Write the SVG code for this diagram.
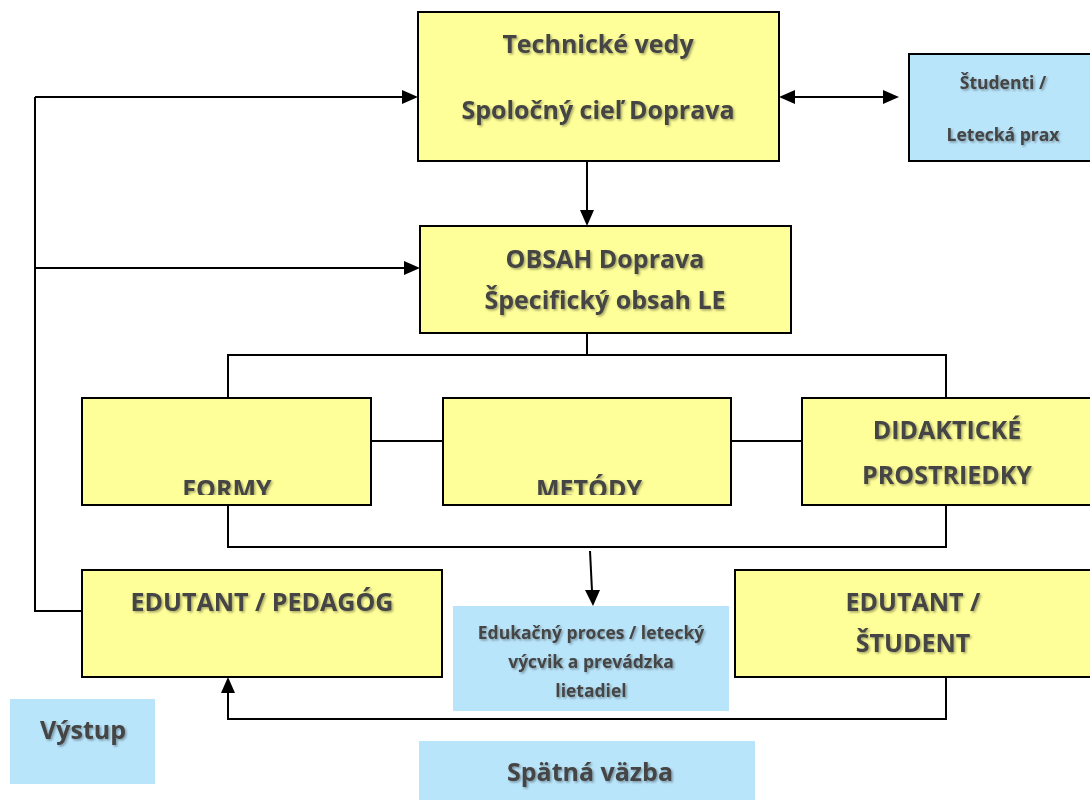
<svg xmlns="http://www.w3.org/2000/svg" width="1090" height="800" viewBox="0 0 1090 800">
<style>
.y{fill:#ffff99;stroke:#000;stroke-width:2}
.b{fill:#b9e5fb;stroke:none}
.bb{fill:#b9e5fb;stroke:#000;stroke-width:2}
.t{font-family:"Open Sans",Lato,sans-serif;font-weight:bold;fill:#444;text-anchor:middle;filter:url(#sh)}
.L{font-size:25px}
.S{font-size:17.5px}
.c{fill:none;stroke:#000;stroke-width:2}
.a{fill:#000}
</style>
<defs>
<filter id="sh" x="-10%" y="-30%" width="120%" height="160%">
<feDropShadow dx="1.5" dy="1.5" stdDeviation="1.2" flood-color="#000" flood-opacity="0.35"/>
</filter>
<clipPath id="cf"><rect x="82" y="398" width="289" height="97"/></clipPath>
<clipPath id="cm"><rect x="443" y="398" width="288" height="97"/></clipPath>
</defs>
<rect width="1090" height="800" fill="#fff"/>
<g id="connectors">
<path class="c" d="M587,161 V210"/>
<path class="c" d="M795,97 H883"/>
<path class="c" d="M35,97 V611 H82"/>
<path class="c" d="M35,97 H402"/>
<path class="c" d="M35,268 H404"/>
<path class="c" d="M587,333 V355 M228,398 V355 H946 V398"/>
<path class="c" d="M371,441 H443 M731,441 H802"/>
<path class="c" d="M228,505 V547 H946 V505"/>
<path class="c" d="M946,677 V719 H228 V693"/>
<path class="c" d="M590,551 L592,591"/>
<path class="a" d="M580,210 L587,226 L594,210 z"/>
<path class="a" d="M402,90 L418,97 L402,104 z"/>
<path class="a" d="M404,261 L420,268 L404,275 z"/>
<path class="a" d="M795,90 L779,97 L795,104 z"/>
<path class="a" d="M883,90 L899,97 L883,104 z"/>
<path class="a" d="M221,693 L228,677 L235,693 z"/>
<path class="a" d="M585,590 L593,606 L600,590 z"/>
</g>
<g id="n-technicke">
<rect class="y" x="418" y="12" width="361" height="149"/>
<text class="t L" x="598" y="53">Technické vedy</text>
<text class="t L" x="598" y="119">Spoločný cieľ Doprava</text>
</g>
<g id="n-studenti">
<rect class="bb" x="909" y="54" width="190" height="107"/>
<text class="t S" x="1003" y="89">Študenti /</text>
<text class="t S" x="1003" y="141">Letecká prax</text>
</g>
<g id="n-obsah">
<rect class="y" x="420" y="226" width="371" height="107"/>
<text class="t L" x="605" y="268">OBSAH Doprava</text>
<text class="t L" x="605" y="309">Špecifický obsah LE</text>
</g>
<g id="n-formy">
<rect class="y" x="82" y="398" width="289" height="107"/>
<text class="t L" x="227" y="498" clip-path="url(#cf)">FORMY</text>
</g>
<g id="n-metody">
<rect class="y" x="443" y="398" width="288" height="107"/>
<text class="t L" x="589" y="498" clip-path="url(#cm)">METÓDY</text>
</g>
<g id="n-didakticke">
<rect class="y" x="802" y="398" width="300" height="107"/>
<text class="t L" x="947" y="439">DIDAKTICKÉ</text>
<text class="t L" x="947" y="484">PROSTRIEDKY</text>
</g>
<g id="n-pedagog">
<rect class="y" x="82" y="570" width="360" height="107"/>
<text class="t L" x="262" y="611">EDUTANT / PEDAGÓG</text>
</g>
<g id="n-edukacny">
<rect class="b" x="453" y="606" width="276" height="105"/>
<text class="t S" x="591" y="639">Edukačný proces / letecký</text>
<text class="t S" x="591" y="668">výcvik a prevádzka</text>
<text class="t S" x="591" y="697">lietadiel</text>
</g>
<g id="n-student">
<rect class="y" x="735" y="570" width="365" height="107"/>
<text class="t L" x="913" y="611">EDUTANT /</text>
<text class="t L" x="913" y="652">ŠTUDENT</text>
</g>
<g id="n-vystup">
<rect class="b" x="10" y="699" width="145" height="85"/>
<text class="t L" x="83" y="739">Výstup</text>
</g>
<g id="n-spatna">
<rect class="b" x="419" y="741" width="336" height="59"/>
<text class="t L" x="590" y="781">Spätná väzba</text>
</g>
</svg>
